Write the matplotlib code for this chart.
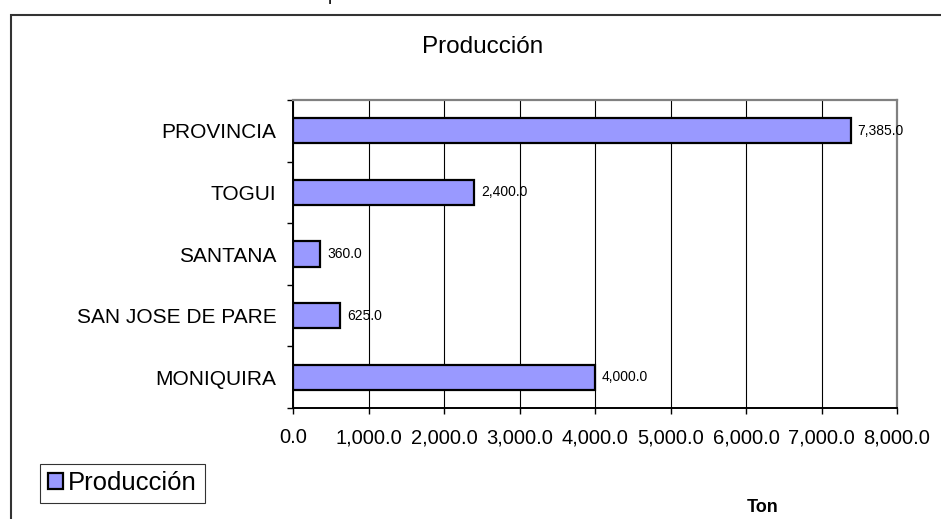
import matplotlib
matplotlib.use("Agg")
import matplotlib.pyplot as plt
from matplotlib.patches import Rectangle
from matplotlib.ticker import FuncFormatter

plt.rcParams["font.family"] = ["Liberation Sans", "DejaVu Sans"]

# bottom to top, as drawn
municipios = ["MONIQUIRA", "SAN JOSE DE PARE", "SANTANA", "TOGUI", "PROVINCIA"]
produccion = [4000.0, 625.0, 360.0, 2400.0, 7385.0]
x_ticks = [0, 1000, 2000, 3000, 4000, 5000, 6000, 7000, 8000]

bar_color = "#9999FF"

fig = plt.figure(figsize=(9.41, 5.19), dpi=100)
ax = fig.add_axes([293 / 941, 1 - 408 / 519, 604 / 941, 308 / 519])

# outer chart frame (right and bottom edges fall outside the picture)
fig.patches.append(Rectangle((11 / 941, -0.05), 1.0, 1 - 15 / 519 + 0.05,
                             transform=fig.transFigure, fill=False,
                             edgecolor="#333333", linewidth=1.5))
# stray descender from text above the frame
fig.text(328 / 941, 1.0, "p", ha="left", va="baseline", fontsize=13, color="black")

pos = range(len(municipios))
bars = ax.barh(pos, produccion, height=0.41, color=bar_color,
               edgecolor="black", linewidth=1.6, label="Producción", zorder=3)

for b, v in zip(bars, produccion):
    ax.annotate(f"{v:,.1f}", (b.get_width(), b.get_y() + b.get_height() / 2),
                xytext=(5, 0), textcoords="offset points", va="center",
                ha="left", fontsize=10, zorder=4)

ax.set_xlim(0, 8000)
ax.set_ylim(-0.5, len(municipios) - 0.5)
ax.set_xticks(x_ticks)
ax.xaxis.set_major_formatter(FuncFormatter(lambda v, p: f"{v:,.1f}"))
ax.tick_params(axis="x", direction="out", length=4.5, width=1, pad=10,
               labelsize=14.5, colors="black")
ax.xaxis.grid(True, color="black", linewidth=0.8, zorder=0)

# category boundaries get the tick marks, centers get the labels
ax.set_yticks([i - 0.5 for i in range(len(municipios) + 1)])
ax.set_yticklabels([])
ax.set_yticks(list(pos), minor=True)
ax.set_yticklabels(municipios, minor=True, fontsize=15)
ax.tick_params(axis="y", which="major", direction="out", length=4.5, width=1)
ax.tick_params(axis="y", which="minor", length=0, pad=12)

for side in ("left", "bottom"):
    ax.spines[side].set_color("black")
    ax.spines[side].set_linewidth(1.4)
for side in ("top", "right"):
    ax.spines[side].set_color("#808080")
    ax.spines[side].set_linewidth(1.6)

fig.text(483 / 941, 1 - 47 / 519, "Producción", ha="center", va="center",
         fontsize=17.5)
fig.text(763 / 941, 1 - 507 / 519, "Ton", ha="center", va="center",
         fontsize=13, fontweight="bold")

leg = fig.legend(handles=[bars], labels=["Producción"],
                 loc="lower left", bbox_to_anchor=(40 / 941, 16 / 519),
                 fontsize=18.5, frameon=True, fancybox=False, shadow=False,
                 handlelength=0.6, handleheight=0.6, handletextpad=0.2,
                 borderpad=0.3, borderaxespad=0)
leg.get_frame().set_edgecolor("black")
leg.get_frame().set_linewidth(0.8)

fig.savefig("out.png", dpi=100)
